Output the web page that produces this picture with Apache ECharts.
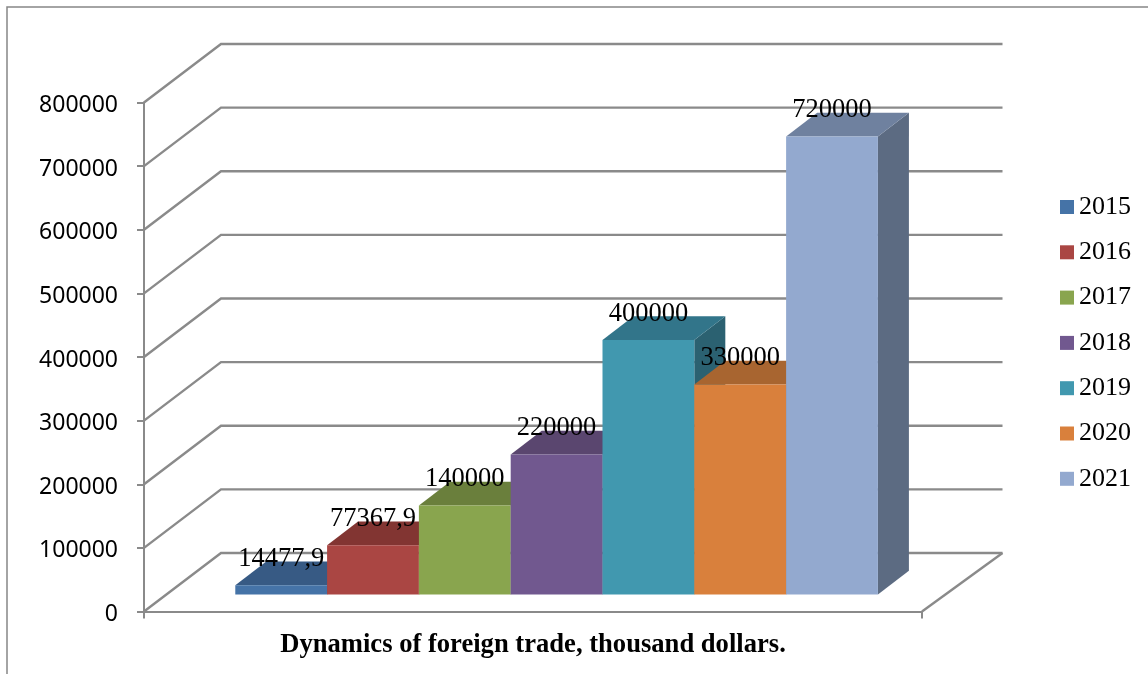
<!DOCTYPE html>
<html>
<head>
<meta charset="utf-8">
<style>html,body{margin:0;padding:0;background:#fff}#c{width:1148px;height:674px}</style>
<script src="https://cdn.jsdelivr.net/npm/echarts@6/dist/echarts.min.js"></script>
</head>
<body>
<div id="c"></div>
<script>
const years = ['2015', '2016', '2017', '2018', '2019', '2020', '2021'];
const values = [14477.9, 77367.9, 140000, 220000, 400000, 330000, 720000];
const yTicks = [0, 100000, 200000, 300000, 400000, 500000, 600000, 700000, 800000];
const frontColors = ['#4573A7', '#AA4643', '#89A54E', '#71588F', '#4198AF', '#D9803C', '#93A9CF'];
const topColors = ['#375A84', '#823532', '#6A7F3C', '#5A466F', '#32758A', '#A86530', '#6F819F'];
const sideColors = ['#2C4A6C', '#6B2C2A', '#566832', '#49395B', '#2B6171', '#8B5428', '#5C6B82'];
const titleText = 'Dynamics of foreign trade, thousand dollars.';

const LINE = '#8a8a8a';
const WALL_DX = 77, WALL_DY = 58.5, WALL_RIGHT_EXTRA = 3.5;
const BAR_SHIFT_X = 23.6, BAR_SHIFT_Y = 17, BAR_FRAC = 0.118, DEPTH_X = 31, DEPTH_Y = 23.7;
const SERIF = '"Liberation Serif", serif';

function wallItem(params, api) {
  const tick = api.value(1);
  const p = api.coord([0, tick]);
  const band = api.size([1, 0])[0];
  const left = p[0] - band / 2;
  const right = p[0] + band / 2;
  const y = p[1];
  const backL = [left + WALL_DX, y - WALL_DY];
  const backR = [right + WALL_DX + WALL_RIGHT_EXTRA, y - WALL_DY];
  const children = [{
    type: 'polyline',
    shape: { points: [[left, y], backL, backR] },
    style: { stroke: LINE, lineWidth: 2.4, fill: null }
  }];
  if (tick === 0) {
    children.push({
      type: 'line',
      shape: { x1: right, y1: y, x2: backR[0], y2: backR[1] },
      style: { stroke: LINE, lineWidth: 2.4 }
    });
  }
  return { type: 'group', children };
}

function barItem(i) {
  return function (params, api) {
    const v = api.value(1);
    const top = api.coord([0, v]);
    const base = api.coord([0, 0]);
    const band = api.size([1, 0])[0];
    const w = band * BAR_FRAC;
    const x0 = top[0] + BAR_SHIFT_X + (i - years.length / 2) * w;
    const x1 = x0 + w;
    const yt = top[1] - BAR_SHIFT_Y;
    const yb = base[1] - BAR_SHIFT_Y;
    return {
      type: 'group',
      children: [
        { type: 'polygon',
          shape: { points: [[x1, yt], [x1 + DEPTH_X, yt - DEPTH_Y], [x1 + DEPTH_X, yb - DEPTH_Y], [x1, yb]] },
          style: { fill: sideColors[i] } },
        { type: 'polygon',
          shape: { points: [[x0, yt], [x0 + DEPTH_X, yt - DEPTH_Y], [x1 + DEPTH_X, yt - DEPTH_Y], [x1, yt]] },
          style: { fill: topColors[i] } },
        { type: 'rect',
          shape: { x: x0, y: yt, width: w, height: yb - yt },
          style: { fill: frontColors[i] } },
        { type: 'text',
          z2: 100,
          style: {
            x: (x0 + x1) / 2, y: yt - 26,
            text: String(values[i]).replace('.', ','),
            fill: '#000', font: '26.5px ' + SERIF,
            textAlign: 'center', textVerticalAlign: 'middle'
          } }
      ]
    };
  };
}

const chart = echarts.init(document.getElementById('c'), null, { renderer: 'canvas' });
chart.setOption({
  animation: false,
  backgroundColor: '#fff',
  graphic: [{
    type: 'polyline',
    shape: { points: [[7, 674], [7, 7], [1148, 7]] },
    style: { stroke: '#868686', lineWidth: 1.5, fill: null },
    silent: true
  }],
  title: {
    text: titleText,
    left: 533, top: 632, textAlign: 'center', padding: 0,
    textStyle: { fontFamily: SERIF, fontWeight: 'bold', fontSize: 26.6, color: '#000' }
  },
  legend: {
    orient: 'vertical',
    left: 1060, top: 194, padding: 0,
    icon: 'rect', itemWidth: 14, itemHeight: 14, itemGap: 19.3,
    data: years,
    textStyle: { fontFamily: SERIF, fontSize: 26, color: '#000' },
    selectedMode: false
  },
  grid: { left: 144, top: 102.5, width: 778, height: 509 },
  xAxis: {
    type: 'category',
    data: [''],
    axisLine: { lineStyle: { color: LINE, width: 2 } },
    axisTick: { show: true, length: 7, lineStyle: { color: LINE, width: 2 } },
    axisLabel: { show: false }
  },
  yAxis: {
    type: 'value',
    min: 0, max: 800000, interval: 100000,
    splitLine: { show: false },
    axisLine: { show: true, lineStyle: { color: LINE, width: 2 } },
    axisTick: { show: true, length: 7, lineStyle: { color: LINE, width: 2 } },
    axisLabel: {
      margin: 26,
      formatter: v => '{a|' + v + '}',
      rich: { a: { fontFamily: '"Noto Sans"', fontSize: 23, color: '#000', padding: [6, 0, 0, 0] } }
    }
  },
  series: [
    {
      type: 'custom', name: 'wall', z: 1, silent: true,
      data: yTicks.map(t => [0, t]),
      encode: { x: 0, y: 1 },
      renderItem: wallItem
    }
  ].concat(years.map((y, i) => ({
    type: 'custom',
    name: y,
    z: 2 + i,
    silent: true,
    itemStyle: { color: frontColors[i] },
    data: [[0, values[i]]],
    encode: { x: 0, y: 1 },
    renderItem: barItem(i)
  })))
});
</script>
</body>
</html>
